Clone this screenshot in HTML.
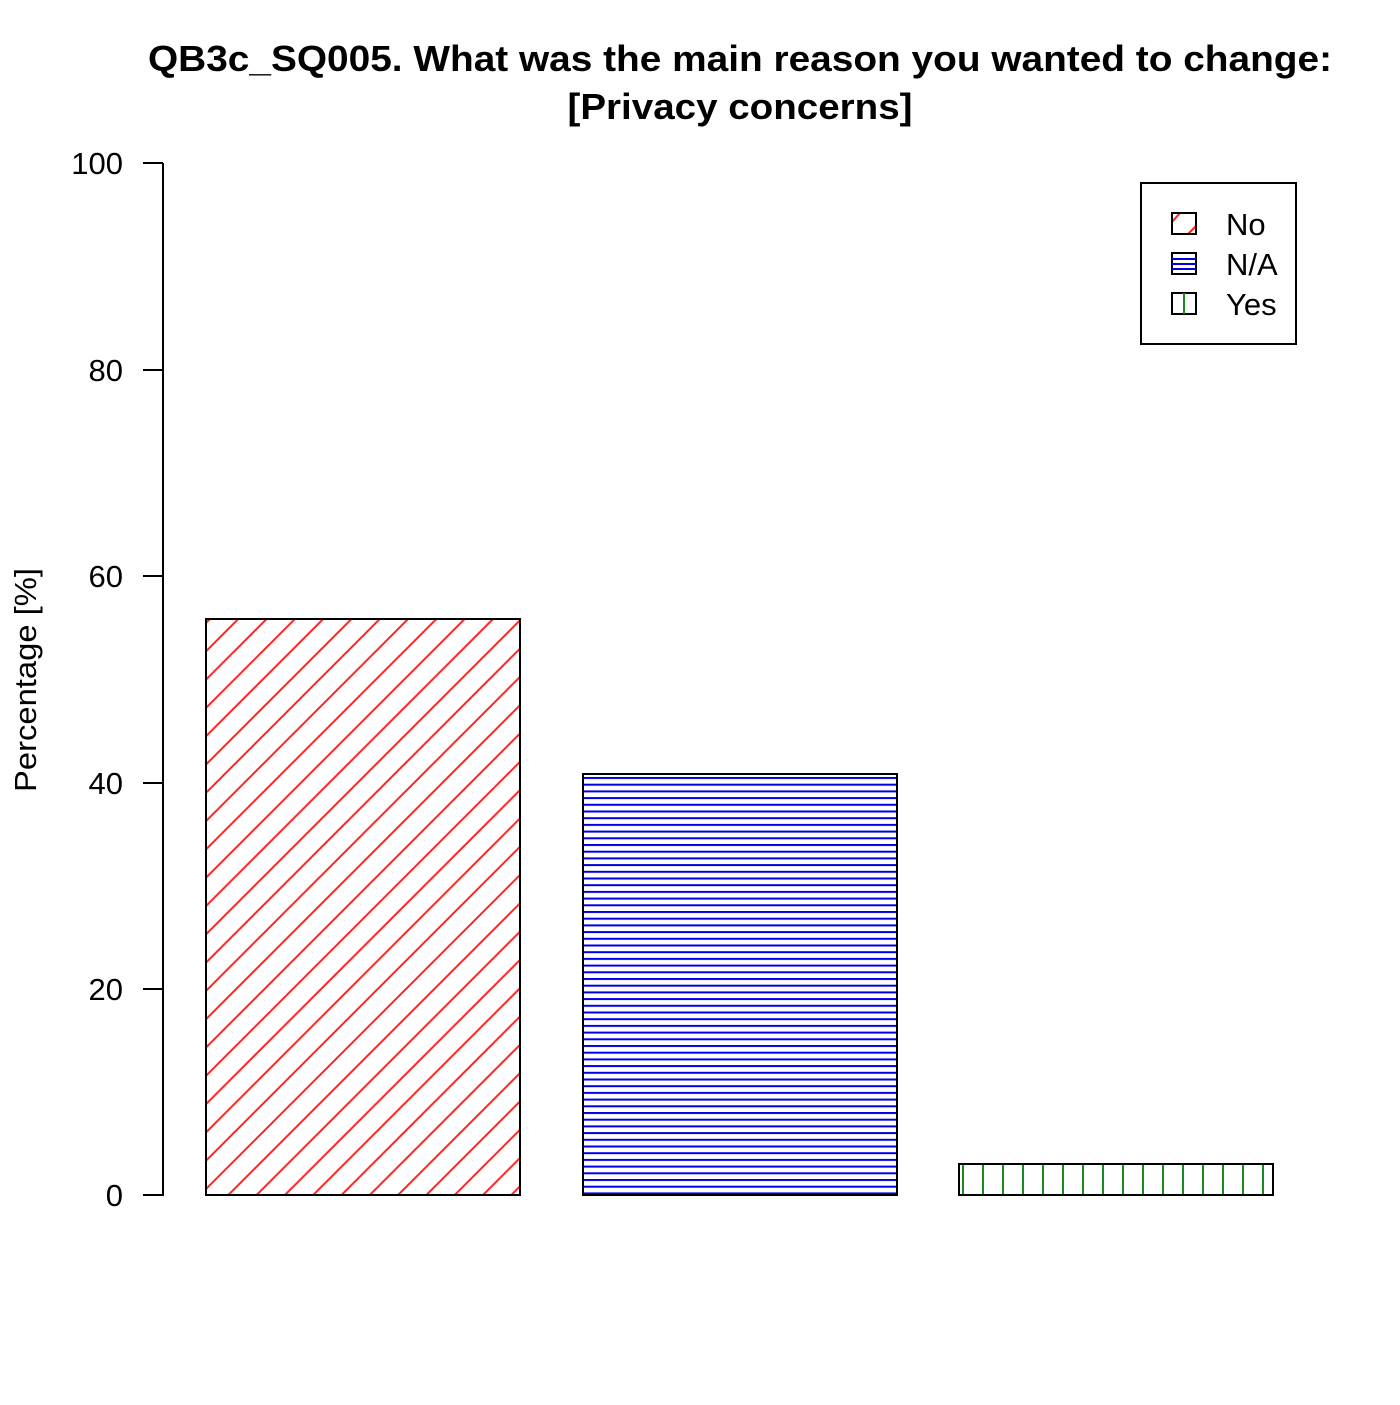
<!DOCTYPE html>
<html><head><meta charset="utf-8"><style>html,body{margin:0;padding:0;background:#fff}</style></head>
<body>
<svg width="1400" height="1400" xmlns="http://www.w3.org/2000/svg" font-family="Liberation Sans, sans-serif">
<defs>
<pattern id="red" patternUnits="userSpaceOnUse" x="8.3" y="0" width="28.3" height="28.3">
<path d="M-2,2 L2,-2 M0,28.3 L28.3,0 M26.3,30.3 L30.3,26.3" stroke="#ff2020" stroke-width="2"/>
</pattern>
<pattern id="blue" patternUnits="userSpaceOnUse" x="0" y="777" width="10" height="6.7">
<line x1="0" y1="1" x2="10" y2="1" stroke="#0000e0" stroke-width="2"/>
</pattern>
<pattern id="green" patternUnits="userSpaceOnUse" x="962" y="0" width="20" height="10">
<line x1="1" y1="0" x2="1" y2="10" stroke="#1a8c1a" stroke-width="2"/>
</pattern>
<pattern id="red2" patternUnits="userSpaceOnUse" x="1172" y="213" width="24" height="21">
<path d="M0,9 L8,0 M16,21 L24,13" stroke="#ff2020" stroke-width="2"/>
</pattern>
</defs>
<text x="740" y="71" font-size="36" font-weight="bold" text-anchor="middle" textLength="1184" lengthAdjust="spacingAndGlyphs">QB3c_SQ005. What was the main reason you wanted to change:</text>
<text x="740" y="119" font-size="36" font-weight="bold" text-anchor="middle" textLength="345" lengthAdjust="spacingAndGlyphs">[Privacy concerns]</text>
<g stroke="#000" stroke-width="2">
<line x1="163" y1="163" x2="163" y2="1196"/>
<line x1="143" y1="163" x2="163" y2="163"/>
<line x1="143" y1="370" x2="163" y2="370"/>
<line x1="143" y1="576" x2="163" y2="576"/>
<line x1="143" y1="783" x2="163" y2="783"/>
<line x1="143" y1="989" x2="163" y2="989"/>
<line x1="143" y1="1195" x2="163" y2="1195"/>
</g>
<g font-size="31" text-anchor="end">
<text x="123" y="174">100</text>
<text x="123" y="381">80</text>
<text x="123" y="587">60</text>
<text x="123" y="794">40</text>
<text x="123" y="1000">20</text>
<text x="123" y="1206">0</text>
</g>
<text transform="translate(36,680) rotate(-90)" font-size="31" text-anchor="middle" textLength="224" lengthAdjust="spacingAndGlyphs">Percentage [%]</text>
<rect x="206" y="619" width="314" height="576" fill="url(#red)" stroke="#000" stroke-width="2"/>
<rect x="583" y="774" width="314" height="421" fill="url(#blue)" stroke="#000" stroke-width="2"/>
<rect x="959" y="1164" width="314" height="31" fill="url(#green)" stroke="#000" stroke-width="2"/>
<rect x="1141" y="183" width="155" height="161" fill="#fff" stroke="#000" stroke-width="2"/>
<rect x="1172" y="213" width="24" height="21" fill="url(#red2)" stroke="#000" stroke-width="2"/>
<rect x="1172" y="253" width="24" height="21" fill="#fff" stroke="#000" stroke-width="2"/>
<g stroke="#0000e0" stroke-width="2"><line x1="1172" y1="259" x2="1196" y2="259"/><line x1="1172" y1="264" x2="1196" y2="264"/><line x1="1172" y1="269" x2="1196" y2="269"/></g>
<rect x="1172" y="293" width="24" height="21" fill="#fff" stroke="#000" stroke-width="2"/>
<line x1="1184" y1="293" x2="1184" y2="314" stroke="#1a8c1a" stroke-width="2"/>
<g font-size="31">
<text x="1226" y="235">No</text>
<text x="1226" y="275">N/A</text>
<text x="1226" y="315">Yes</text>
</g>
</svg>
</body></html>
